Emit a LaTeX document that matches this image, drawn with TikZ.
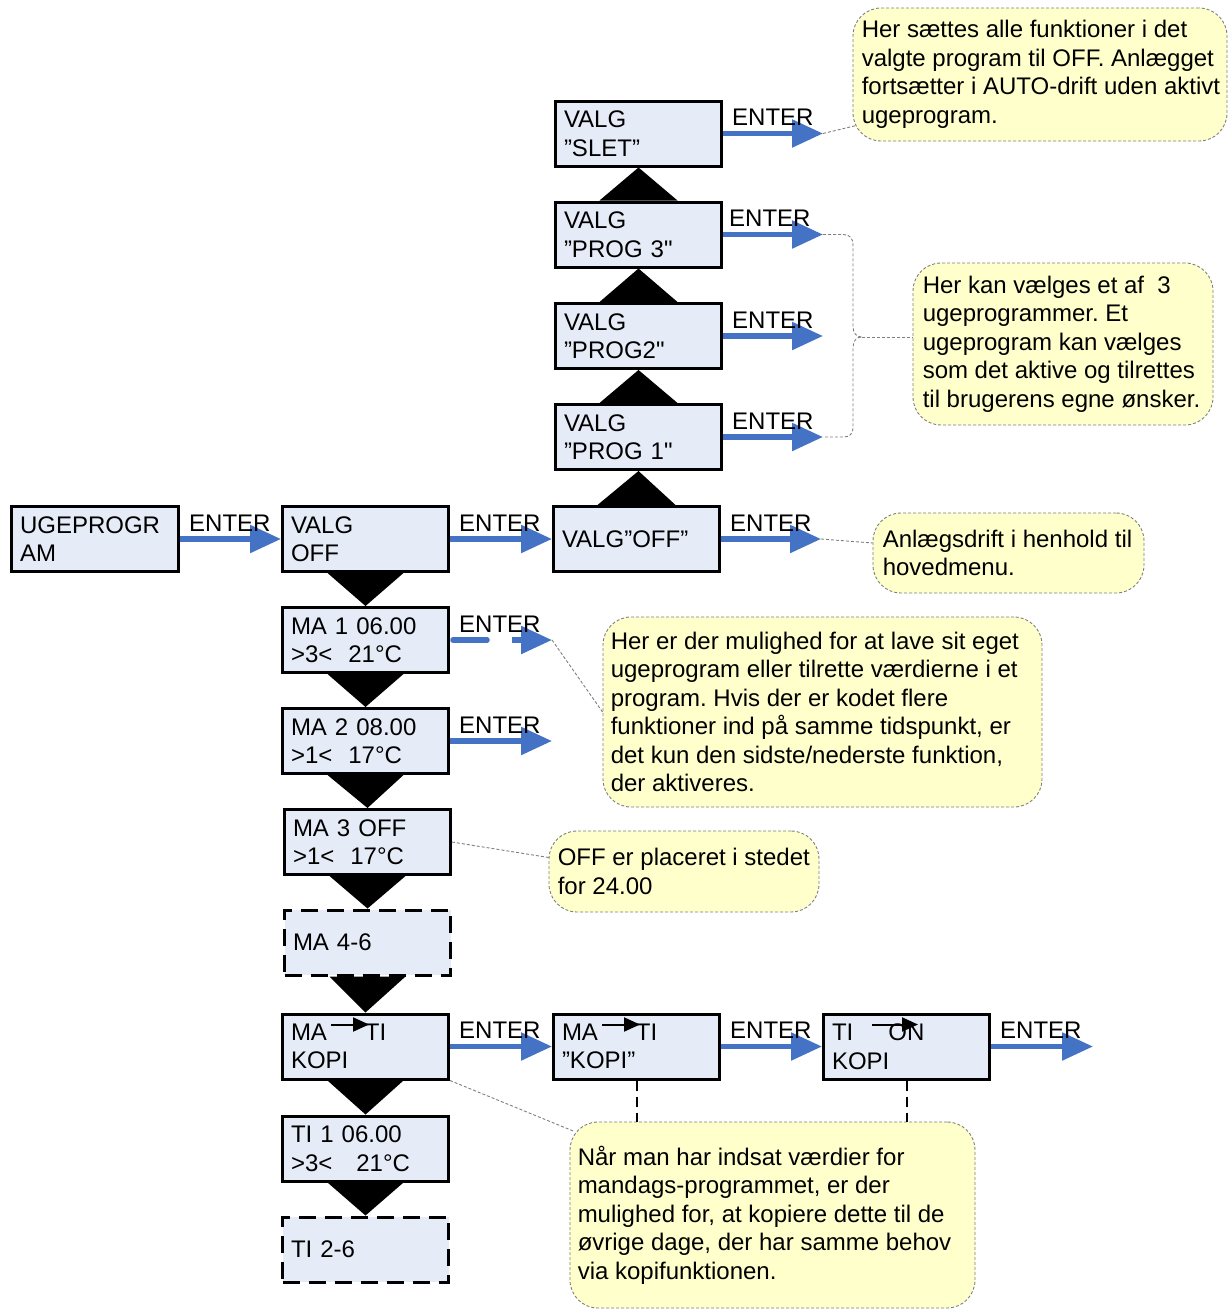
\documentclass[tikz,border=0pt]{standalone}
\usepackage{fontspec}
\setmainfont{Liberation Sans}[Ligatures=TeXOff]
\usetikzlibrary{arrows.meta,calc}
\definecolor{boxfill}{HTML}{E6ECF7}
\definecolor{bblue}{HTML}{4472C4}
\definecolor{callfill}{HTML}{FFFFCC}
\definecolor{callline}{HTML}{7F7F7F}
\frenchspacing
\begin{document}
\begin{tikzpicture}[x=1pt,y=-1pt,
  font=\fontsize{24}{28.5}\selectfont,
  box/.style={draw=black, line width=3pt, fill=boxfill, minimum width=166pt, minimum height=65pt, text width=149pt, align=left, inner sep=0pt},
  dbox/.style={box, dash pattern=on 17pt off 9pt},
  call/.style={draw=callline, fill=callfill, line width=0.9pt, dash pattern=on 3pt off 2pt, rounded corners=28pt, inner sep=0pt},
  ctext/.style={anchor=west, align=left, inner sep=0pt},
  lab/.style={anchor=base west, inner sep=0pt},
  barrow/.style={draw=bblue, line width=5.5pt, -{Triangle[length=31pt,width=27pt]}},
  bline/.style={draw=bblue, line width=5.5pt, line cap=round},
  conn/.style={draw=callline, line width=0.9pt, dash pattern=on 3pt off 2pt},
  vdash/.style={draw=black, line width=2pt, dash pattern=on 10pt off 6pt},
  kopiarrow/.style={draw=black, line width=2pt, -{Triangle[length=16pt,width=14pt]}}
]
\useasboundingbox (0,0) rectangle (1229,1309);

% boxes
\node[box, minimum width=167pt, text width=150pt] (ug) at (95,539) {UGEPROGR\\AM};
\node[box] (voff) at (365.5,539) {VALG\\OFF};
\node[box] (voff2) at (636.5,539) {VALG”OFF”};
\node[box] (p1) at (638.5,437) {VALG\\”PROG 1"};
\node[box] (p2) at (638.5,336) {VALG\\”PROG2"};
\node[box] (p3) at (638.5,234.5) {VALG\\”PROG 3"};
\node[box] (slet) at (638.5,133.5) {VALG\\”SLET”};
\node[box] (m1) at (365.5,640) {MA 1 06.00\\>3<\ \ 21°C};
\node[box] (m2) at (365.5,741) {MA 2 08.00\\>1<\ \ 17°C};
\node[box] (m3) at (367.5,842) {MA 3 OFF\\>1<\ \ 17°C};
\node[dbox] (m46) at (367.5,942.5) {MA 4-6};
\node[box] (k1) at (365.5,1046.5) {MA\hspace{38pt}TI\\KOPI};
\node[box] (k2) at (636.5,1046.5) {MA\hspace{38pt}TI\\”KOPI”};
\node[box] (k3) at (906.5,1046.5) {TI\hspace{35pt}ON\\KOPI};
\node[box] (t1) at (365.5,1148.5) {TI 1 06.00\\>3<\ \ \ 21°C};
\node[dbox] (t26) at (365.5,1249.5) {TI 2-6};

% arrows inside the KOPI boxes
\draw[kopiarrow] ($(k1.north west)+(50,12)$) -- ($(k1.north west)+(88,12)$);
\draw[kopiarrow] ($(k2.north west)+(50,12)$) -- ($(k2.north west)+(88,12)$);
\draw[kopiarrow] ($(k3.north west)+(50,12)$) -- ($(k3.north west)+(96,12)$);

% black triangles (down)
\foreach \a/\b in {voff/m1, m1/m2, m2/m3, m3/m46, m46/k1, k1/t1, t1/t26}{
  \fill ($(\a.south)+(-38,0)$) -- ($(\a.south)+(38,0)$) -- (\b.north) -- cycle;
}
% black triangles (up)
\foreach \a/\b in {voff2/p1, p1/p2, p2/p3, p3/slet}{
  \fill ($(\a.north)+(-39,0)$) -- ($(\a.north)+(39,0)$) -- (\b.south) -- cycle;
}

% free arrow ends
\coordinate (e_slet) at ($(slet.east)+(100,0)$);
\coordinate (e_p3) at ($(p3.east)+(100,0)$);
\coordinate (e_p2) at ($(p2.east)+(100,0)$);
\coordinate (e_p1) at ($(p1.east)+(100,0)$);
\coordinate (e_voff2) at ($(voff2.east)+(100,0)$);
\coordinate (e_m1) at ($(m1.east)+(102,0)$);
\coordinate (e_m2) at ($(m2.east)+(102,0)$);
\coordinate (e_k3) at ($(k3.east)+(102,0)$);

% blue arrows
\draw[barrow] (ug.east) -- (voff.west);
\draw[barrow] (voff.east) -- (voff2.west);
\draw[barrow] (voff2.east) -- (e_voff2);
\draw[barrow] (p1.east) -- (e_p1);
\draw[barrow] (p2.east) -- (e_p2);
\draw[barrow] (p3.east) -- (e_p3);
\draw[barrow] (slet.east) -- (e_slet);
\draw[bline] ($(m1.east)+(3,0)$) -- ($(m1.east)+(37,0)$);
\draw[barrow] ($(m1.east)+(62,0)$) -- (e_m1);
\draw[barrow] (m2.east) -- (e_m2);
\draw[barrow] (k1.east) -- (k2.west);
\draw[barrow] (k2.east) -- (k3.west);
\draw[barrow] (k3.east) -- (e_k3);

% ENTER labels
\foreach \n in {ug, voff, voff2, p1, p2, slet, m1, m2, k1, k2, k3}{
  \node[lab] at ($(\n.east)+(9,-8)$) {ENTER};
}
\node[lab] at ($(p3.east)+(6,-8)$) {ENTER};

% callouts
\node[call, minimum width=374pt, minimum height=133pt] (c1) at (1040,74.5) {};
\node[ctext] (c1t) at ($(c1.west)+(9,0)$)
  {Her sættes alle funktioner i det\\valgte program til OFF. Anlægget\\fortsætter i AUTO-drift uden aktivt\\ugeprogram.};
\node[call, minimum width=300pt, minimum height=162pt] (c2) at (1063,344) {};
\node[ctext] (c2t) at ($(c2.west)+(10,0)$)
  {Her kan vælges et af\ \ 3\\ugeprogrammer. Et\\ugeprogram kan vælges\\som det aktive og tilrettes\\til brugerens egne ønsker.};
\node[call, minimum width=271pt, minimum height=80pt] (c3) at (1008.5,553) {};
\node[ctext] (c3t) at ($(c3.west)+(10,0)$)
  {Anlægsdrift i henhold til\\hovedmenu.};
\node[call, minimum width=439pt, minimum height=190pt] (c4) at (822.5,712) {};
\node[ctext] (c4t) at ($(c4.west)+(8,0)$)
  {Her er der mulighed for at lave sit eget\\ugeprogram eller tilrette værdierne i et\\program. Hvis der er kodet flere\\funktioner ind på samme tidspunkt, er\\det kun den sidste/nederste funktion,\\der aktiveres.};
\node[call, minimum width=270pt, minimum height=81pt] (c5) at (684,871.5) {};
\node[ctext] (c5t) at ($(c5.west)+(9,0)$)
  {OFF er placeret i stedet\\for 24.00};
\node[call, minimum width=405pt, minimum height=186pt] (c6) at (772.5,1215) {};
\node[ctext] (c6t) at ($(c6.west)+(8,0)$)
  {Når man har indsat værdier for\\mandags-programmet, er der\\mulighed for, at kopiere dette til de\\øvrige dage, der har samme behov\\via kopifunktionen.};

% callout connectors
\draw[conn] (e_slet) -- ($(c1.south west)+(4,-16)$);
\coordinate (btip) at (862,337);
\draw[conn] (e_p3) -- (843,234.5) .. controls (850,234.5) and (853,238) .. (853,246)
  -- (853,326) .. controls (853,333) and (856,337) .. (btip)
  .. controls (856,337) and (853,341) .. (853,348)
  -- (853,426) .. controls (853,434) and (850,437) .. (843,437) -- (e_p1);
\draw[conn] (btip) -- (c2.west |- btip);
\draw[conn] (e_voff2) -- ($(c3.west)+(0,-10)$);
\draw[conn] (e_m1) -- (c4.west);
\draw[conn] (m3.east) -- ($(c5.west)+(0,-14)$);
\draw[conn] (k1.south east) -- ($(c6.north west)+(5,10)$);
\draw[vdash] (k2.south) -- (k2.south |- c6.north);
\draw[vdash] (k3.south) -- (k3.south |- c6.north);
\end{tikzpicture}
\end{document}
